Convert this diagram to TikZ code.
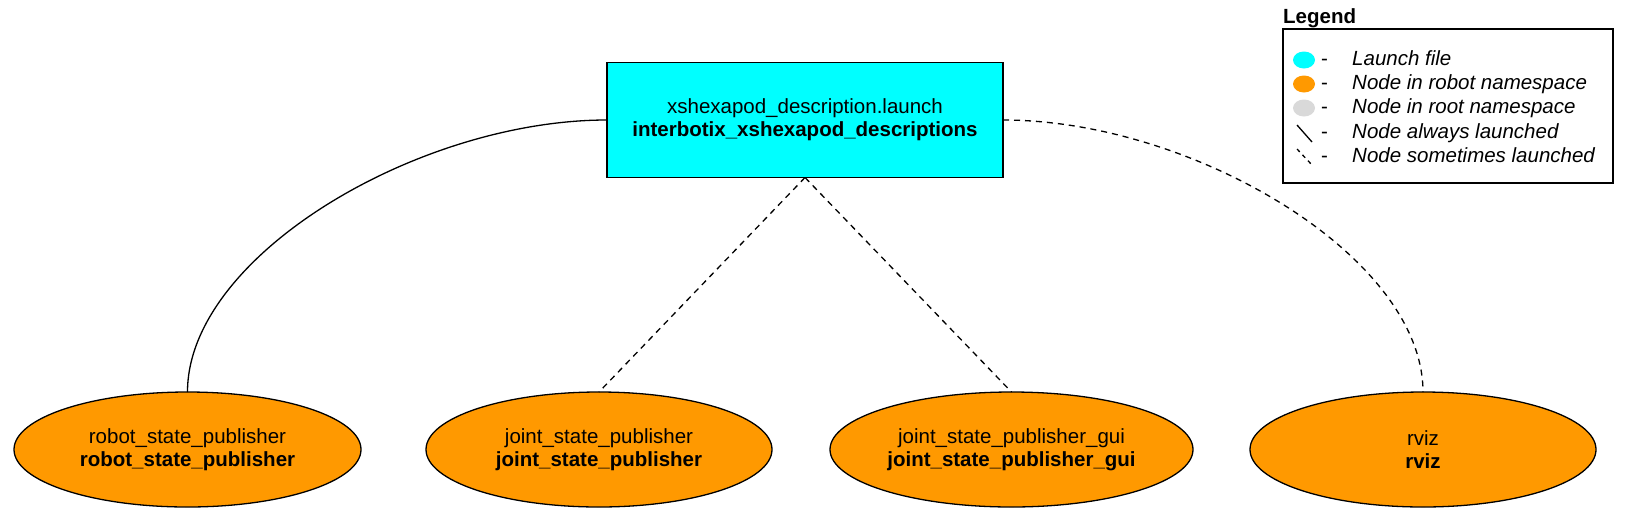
\documentclass[tikz,border=0pt]{standalone}
\usepackage{fontspec}
\setmainfont{Liberation Sans}
\usetikzlibrary{shapes.geometric}
\definecolor{launchcyan}{HTML}{00FFFF}
\definecolor{nodeorange}{HTML}{FF9900}
\definecolor{rootgrey}{HTML}{D9D9D9}
\tikzset{
  base/.style={draw=black, line width=1.3pt, outer sep=0pt, inner sep=0pt, align=center,
    font=\fontsize{20.5}{23}\selectfont},
  launchbox/.style={base, rectangle, fill=launchcyan, minimum width=396pt, minimum height=115pt},
  rosnode/.style={base, ellipse, fill=nodeorange, minimum height=115pt},
  edge/.style={line width=1.3pt, black},
  sometimes/.style={edge, dash pattern=on 6pt off 5pt},
  legtext/.style={inner sep=0pt, anchor=base west, font=\fontsize{20.5}{23}\selectfont\itshape},
  legdash/.style={inner sep=0pt, anchor=base west, font=\fontsize{20.5}{23}\selectfont},
  legmark/.style={ellipse, draw=none, minimum width=22pt, minimum height=17pt, inner sep=0pt}
}
\begin{document}
\begin{tikzpicture}[x=1pt,y=-1pt]
\useasboundingbox (0,0) rectangle (1625,531);

\node[launchbox] (launch) at (805,120) {xshexapod\_description.launch\\\textbf{interbotix\_xshexapod\_descriptions}};

\node[rosnode, minimum width=347pt] (rsp) at (187.5,449.5) {robot\_state\_publisher\\\textbf{robot\_state\_publisher}};
\node[rosnode, minimum width=346pt] (jsp) at (599,449.5) {joint\_state\_publisher\\\textbf{joint\_state\_publisher}};
\node[rosnode, minimum width=363pt] (jspg) at (1011.5,449.5) {joint\_state\_publisher\_gui\\\textbf{joint\_state\_publisher\_gui}};
\node[rosnode, minimum width=346pt] (rviz) at (1423,449.5) {rviz\\\textbf{rviz}};

\draw[edge] (launch.west) .. controls +(-189,0) and +(0,-136) .. (rsp.north);
\draw[sometimes] (launch.south) -- (jsp.north);
\draw[sometimes] (launch.south) -- (jspg.north);
\draw[sometimes] (launch.east) .. controls +(189,0) and +(0,-136) .. (rviz.north);

% Legend
\node[inner sep=0pt, anchor=base west, font=\fontsize{20.5}{23}\selectfont\bfseries] (legtitle) at (1283,23) {Legend};
\node[draw=black, line width=1.3pt, minimum width=330pt, minimum height=154pt, inner sep=0pt, outer sep=0pt] (legbox) at (1448,106) {};

\node[legmark, fill=launchcyan] (m1) at (1304,60) {};
\node[legmark, fill=nodeorange] (m2) at (1304,84) {};
\node[legmark, fill=rootgrey] (m3) at (1304,108) {};
\coordinate (l4a) at (1297,125);
\coordinate (l4b) at (1312,142);
\draw[line width=1.3pt] (l4a) -- (l4b);
\coordinate (l5a) at (1297,149);
\coordinate (l5b) at (1312,165);
\draw[line width=1.3pt, dash pattern=on 4pt off 4pt] (l5a) -- (l5b);

\foreach \i/\yy in {1/65,2/89,3/113,4/138,5/162}{
  \node[legdash] (d\i) at (1321,\yy) {-};
}
\node[legtext] (t1) at (1352,65) {Launch file};
\node[legtext] (t2) at (1352,89) {Node in robot namespace};
\node[legtext] (t3) at (1352,113) {Node in root namespace};
\node[legtext] (t4) at (1352,138) {Node always launched};
\node[legtext] (t5) at (1352,162) {Node sometimes launched};
\end{tikzpicture}
\end{document}
